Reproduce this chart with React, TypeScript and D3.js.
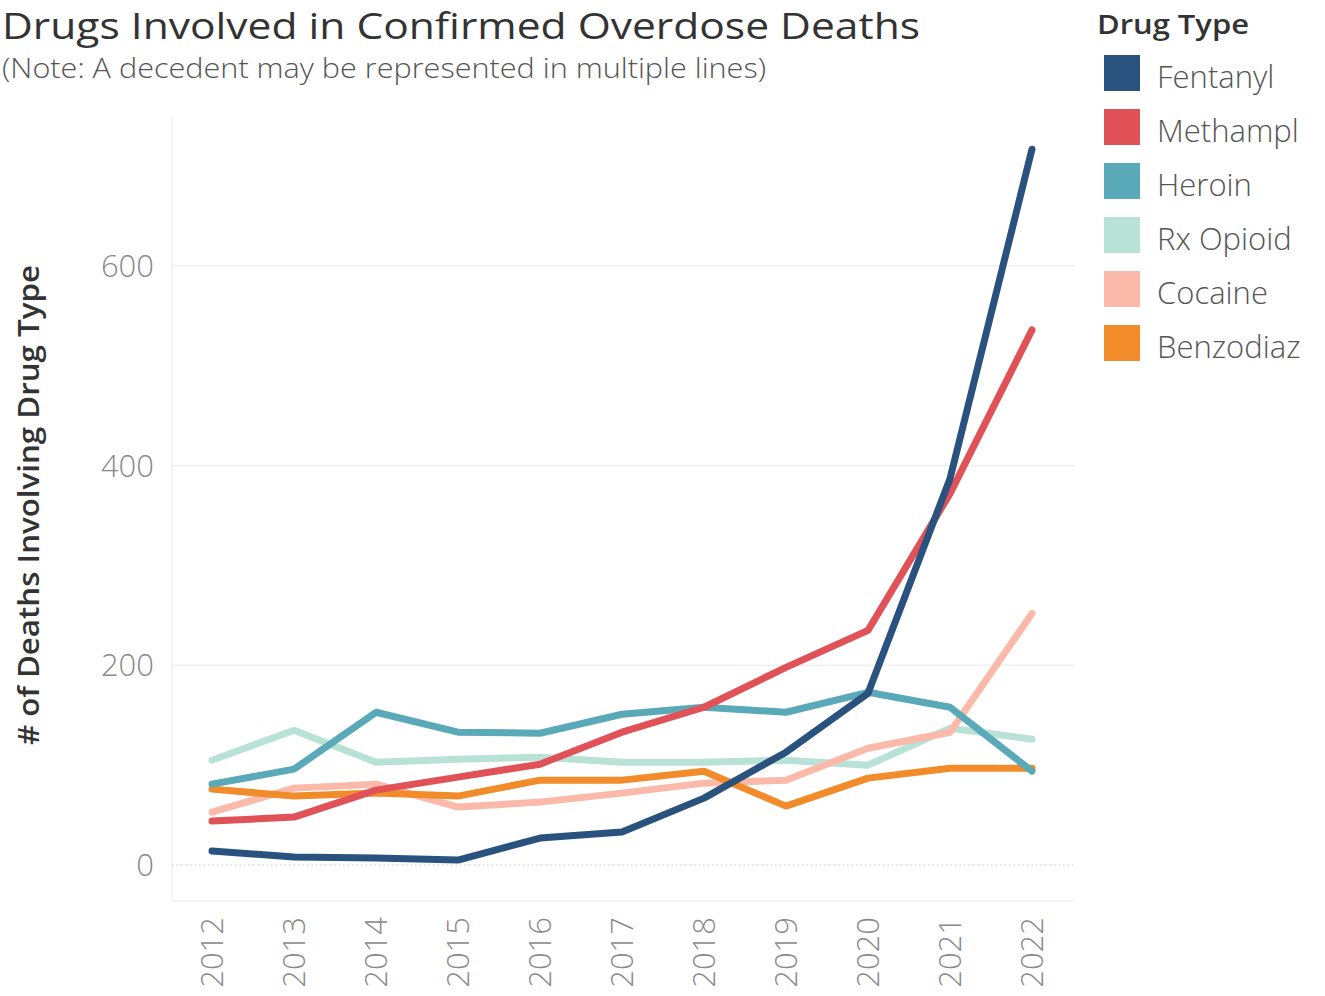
import React, { useEffect, useRef } from "react";
import * as d3 from "d3";

const years = [2012, 2013, 2014, 2015, 2016, 2017, 2018, 2019, 2020, 2021, 2022];
const drugTypes = ["Fentanyl", "Methampl", "Heroin", "Rx Opioid", "Cocaine", "Benzodiaz"];
const fentanyl = [14, 8, 7, 5, 27, 33, 67, 113, 172, 387, 717];
const methamph = [44, 48, 75, 88, 101, 133, 158, 198, 235, 372, 536];
const heroin = [81, 96, 153, 133, 132, 151, 158, 153, 173, 158, 94];
const rxOpioid = [105, 135, 103, 106, 108, 103, 103, 105, 100, 137, 126];
const cocaine = [53, 77, 81, 58, 63, 72, 82, 85, 117, 133, 252];
const benzodiaz = [76, 69, 72, 69, 85, 85, 94, 59, 87, 97, 97];
const yTicks = [0, 200, 400, 600];
const colors = ["#29527f", "#e05257", "#5aa9b9", "#b8e2d6", "#fbb9aa", "#f28b2a"];

const seriesValues = [fentanyl, methamph, heroin, rxOpioid, cocaine, benzodiaz];
// draw order: lighter lines underneath, Fentanyl / Meth on top
const drawOrder = [3, 4, 5, 2, 1, 0];

export default function App() {
  const ref = useRef<SVGSVGElement | null>(null);

  useEffect(() => {
    if (!ref.current) return;
    const svg = d3.select(ref.current);
    svg.selectAll("*").remove();

    const width = 1325;
    const height = 996;
    const font = "'Open Sans', 'Noto Sans', sans-serif";

    svg.attr("width", width).attr("height", height).style("font-family", font);
    svg.append("rect").attr("width", width).attr("height", height).attr("fill", "#fff");

    const plot = { left: 172, right: 1075, top: 117, bottom: 901 };

    const x = d3.scaleLinear().domain([2012, 2022]).range([212, 1032]);
    const y = d3.scaleLinear().domain([0, 600]).range([865, 266]);

    // titles
    svg.append("text")
      .attr("x", 2)
      .attr("y", 39)
      .attr("fill", "#333")
      .style("font-size", "36px")
      .attr("textLength", 918)
      .attr("lengthAdjust", "spacingAndGlyphs")
      .text("Drugs Involved in Confirmed Overdose Deaths");

    svg.append("text")
      .attr("x", 2)
      .attr("y", 78)
      .attr("fill", "#555")
      .style("font-size", "28px")
      .style("font-weight", 300)
      .attr("textLength", 764)
      .attr("lengthAdjust", "spacingAndGlyphs")
      .text("(Note: A decedent may be represented in multiple lines)");

    // plot frame (faint)
    svg.append("line")
      .attr("x1", plot.left).attr("x2", plot.left)
      .attr("y1", plot.top).attr("y2", plot.bottom)
      .attr("stroke", "#f2f2f2").attr("stroke-width", 1.5);
    svg.append("line")
      .attr("x1", plot.left).attr("x2", plot.right)
      .attr("y1", plot.bottom).attr("y2", plot.bottom)
      .attr("stroke", "#f0f0f0").attr("stroke-width", 1.5);

    // gridlines
    yTicks.forEach((t) => {
      const line = svg.append("line")
        .attr("x1", plot.left).attr("x2", plot.right)
        .attr("y1", y(t)).attr("y2", y(t));
      if (t === 0) {
        line.attr("stroke", "#c8c8c8").attr("stroke-width", 1.2).attr("stroke-dasharray", "1.5,3");
      } else {
        line.attr("stroke", "#efefef").attr("stroke-width", 1.5);
      }
    });

    // y tick labels
    svg.append("g")
      .selectAll("text")
      .data(yTicks)
      .join("text")
      .attr("x", 154)
      .attr("y", (d) => y(d) + 11)
      .attr("text-anchor", "end")
      .attr("fill", "#8a8a8a")
      .style("font-size", "31px")
      .style("font-weight", 300)
      .text((d) => d3.format("d")(d));

    // y axis title
    svg.append("text")
      .attr("transform", `translate(39,505) rotate(-90)`)
      .attr("text-anchor", "middle")
      .attr("fill", "#333")
      .style("font-size", "29px")
      .style("font-weight", 600)
      .attr("textLength", 480)
      .attr("lengthAdjust", "spacingAndGlyphs")
      .text("# of Deaths Involving Drug Type");

    // x tick labels
    svg.append("g")
      .selectAll("text")
      .data(years)
      .join("text")
      .attr("transform", (d) => `translate(${x(d) + 11},917) rotate(-90)`)
      .attr("text-anchor", "end")
      .attr("fill", "#8a8a8a")
      .style("font-size", "31px")
      .style("font-weight", 300)
      .text((d) => String(d));

    // lines
    const line = d3.line<number>()
      .x((_, i) => x(years[i]))
      .y((d) => y(d));

    drawOrder.forEach((i) => {
      svg.append("path")
        .datum(seriesValues[i])
        .attr("d", line)
        .attr("fill", "none")
        .attr("stroke", colors[i])
        .attr("stroke-width", 7)
        .attr("stroke-linejoin", "round")
        .attr("stroke-linecap", "round");
    });

    // legend
    svg.append("text")
      .attr("x", 1097)
      .attr("y", 34)
      .attr("fill", "#333")
      .style("font-size", "27px")
      .style("font-weight", 600)
      .attr("textLength", 152)
      .attr("lengthAdjust", "spacingAndGlyphs")
      .text("Drug Type");

    const legend = svg.append("g")
      .selectAll("g")
      .data(drugTypes)
      .join("g")
      .attr("transform", (_, i) => `translate(1104,${55 + i * 54})`);

    legend.append("rect")
      .attr("width", 36)
      .attr("height", 36)
      .attr("fill", (_, i) => colors[i]);

    legend.append("text")
      .attr("x", 53)
      .attr("y", 33)
      .attr("fill", "#555")
      .style("font-size", "31px")
      .style("font-weight", 300)
      .text((d) => d);
  }, []);

  return (
    <svg
      ref={ref}
      style={{ position: "absolute", left: 0, top: 0, display: "block" }}
    />
  );
}
